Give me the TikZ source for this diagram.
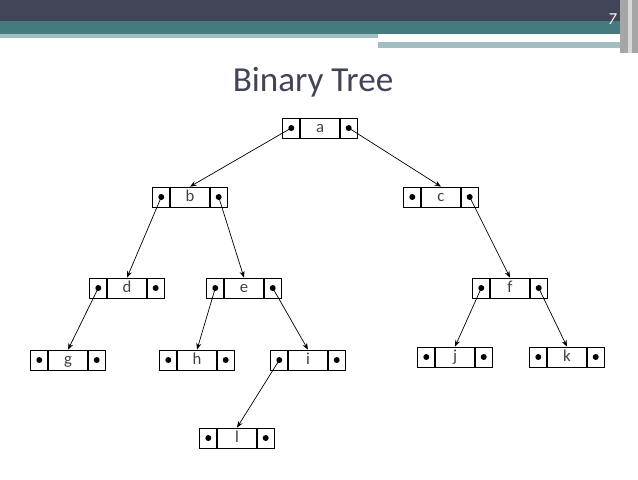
\documentclass[tikz,border=0pt]{standalone}
\usepackage{fontspec}
\setmainfont{Carlito}
\usetikzlibrary{positioning,arrows.meta}
\definecolor{bardark}{HTML}{404456}
\definecolor{barteal}{HTML}{457B80}
\definecolor{barlight}{HTML}{A3BDC1}
\newcommand{\cellfont}{\fontsize{19}{22}\selectfont}
\tikzstyle{cell}=[rectangle,draw=black,thick,minimum width=15.6mm,minimum height=8mm,inner sep=0pt,text=black!75]
\tikzstyle{ptr}=[rectangle,draw=black,thick,minimum width=6.8mm,minimum height=8mm,inner sep=0pt]
\tikzstyle{dot}=[circle,fill=black,inner sep=0pt,minimum size=2.4mm]
\newcommand{\record}[3]{%
  \node[cell] (#1) at (#2) {\cellfont\vphantom{hg}#3};
  \node[ptr,left=0pt of #1] (#1l) {};
  \node[ptr,right=0pt of #1] (#1r) {};
  \node[dot] (#1ld) at (#1l) {};
  \node[dot] (#1rd) at (#1r) {};}
\begin{document}
\begin{tikzpicture}[x=0.4mm,y=-0.4mm,>={Stealth[length=2.6mm,width=2mm]}]
            \useasboundingbox (0,0) rectangle (638,479);
            % slide header
            \fill[bardark] (0,0) rectangle (638,21);
            \fill[barteal] (0,21) rectangle (638,34);
            \fill[barlight] (0,34) rectangle (378,38);
            \fill[white] (378,38) rectangle (590,41);
            \fill[barlight] (378,42) rectangle (638,48);
            \fill[white] (515,48) rectangle (625,53);
            \fill[black!35] (620,0) rectangle (638,53);
            \fill[black!15] (628,0) rectangle (632,53);
            \node[text=white] (page) at (612,19) {\cellfont\itshape 7};
            \node[text=bardark] (title) at (313,82) {\fontsize{40}{44}\selectfont Binary Tree};

            % records
            \record{a}{320,128}{a}
            \record{b}{190,197}{b}
            \record{c}{441,197}{c}
            \record{d}{127,288}{d}
            \record{e}{244,288}{e}
            \record{f}{510,288}{f}
            \record{g}{68,360}{g}
            \record{h}{197,360}{h}
            \record{i}{308,360}{i}
            \record{j}{455,357}{j}
            \record{k}{567,357}{k}
            \record{l}{237,438}{l}

            % links
            \draw[->,thick] (ald.center) -- (b.north);
            \draw[->,thick] (ard.center) -- (c.north);
            \draw[->,thick] (bld.center) -- (d.north);
            \draw[->,thick] (brd.center) -- (e.north);
            \draw[->,thick] (crd.center) -- (f.north);
            \draw[->,thick] (dld.center) -- (g.north);
            \draw[->,thick] (eld.center) -- (h.north);
            \draw[->,thick] (erd.center) -- (i.north);
            \draw[->,thick] (fld.center) -- (j.north);
            \draw[->,thick] (frd.center) -- (k.north);
            \draw[->,thick] (ild.center) -- (l.north);
\end{tikzpicture}
\end{document}
